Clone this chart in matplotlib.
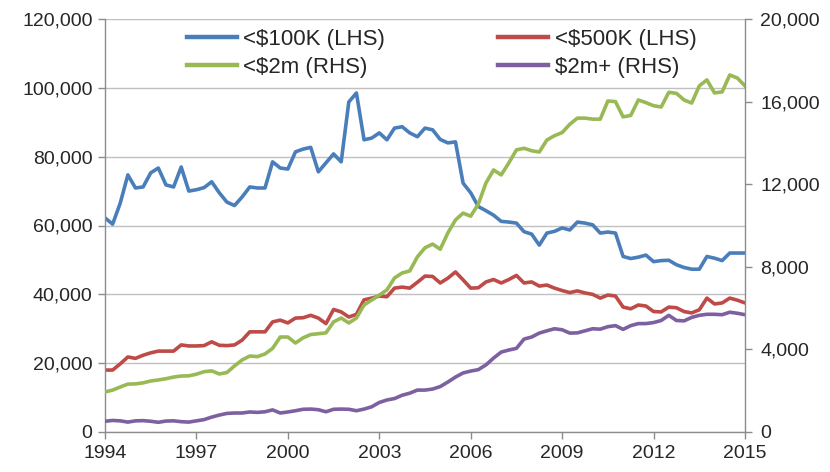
import matplotlib
matplotlib.use("Agg")
import matplotlib.pyplot as plt
from matplotlib.ticker import FuncFormatter, FixedLocator
import numpy as np

# Quarterly data, 1994 Q1 .. 2015 Q1
start_year = 1994
under_100k = [62200, 60400, 66500, 74700, 70900, 71200, 75300, 76700, 71800, 71200,
              77000, 70000, 70400, 71000, 72700, 69500, 66800, 65800, 68300, 71200,
              70900, 70900, 78500, 76700, 76400, 81400, 82200, 82700, 75600, 78200,
              80800, 78500, 95900, 98500, 84900, 85400, 86900, 84900, 88300, 88700,
              86900, 85800, 88300, 87800, 85000, 84000, 84300, 72300, 69500, 65500,
              64300, 63000, 61200, 61000, 60700, 58200, 57500, 54300, 57800, 58300,
              59300, 58700, 61000, 60700, 60200, 57800, 58100, 57800, 51000, 50400,
              50800, 51400, 49500, 49800, 49900, 48600, 47800, 47300, 47300, 51000,
              50500, 49800, 52000, 52000, 52000]
under_500k = [18000, 18000, 19800, 21800, 21400, 22300, 23000, 23500, 23500, 23500,
              25300, 25000, 25000, 25100, 26200, 25200, 25100, 25300, 26700, 29100,
              29100, 29100, 32000, 32500, 31700, 33100, 33200, 33900, 33100, 31500,
              35600, 34900, 33400, 34200, 38400, 38900, 39500, 39300, 41800, 42100,
              41800, 43500, 45300, 45200, 43300, 44700, 46500, 44200, 41800, 41900,
              43600, 44300, 43300, 44300, 45500, 43300, 43600, 42400, 42700, 41800,
              41100, 40500, 41000, 40400, 40000, 38900, 39800, 39500, 36300, 35800,
              36900, 36600, 35000, 34900, 36300, 36100, 35000, 34600, 35500, 38900,
              37200, 37500, 38900, 38300, 37500]
under_2m = [1940, 2030, 2180, 2320, 2330, 2380, 2470, 2520, 2580, 2660,
            2710, 2720, 2800, 2920, 2960, 2810, 2880, 3200, 3490, 3680,
            3650, 3780, 4050, 4600, 4600, 4310, 4560, 4720, 4760, 4800,
            5330, 5520, 5280, 5520, 6150, 6390, 6630, 6880, 7460, 7700,
            7800, 8480, 8920, 9100, 8850, 9640, 10270, 10600, 10450, 11040,
            12060, 12690, 12450, 13030, 13660, 13740, 13620, 13560, 14140, 14350,
            14500, 14900, 15200, 15200, 15150, 15150, 16030, 16000, 15260, 15330,
            16080, 15950, 15800, 15740, 16450, 16400, 16080, 15930, 16760, 17050,
            16420, 16470, 17290, 17140, 16760]
over_2m = [520, 560, 540, 480, 540, 550, 520, 470, 530, 540,
           500, 480, 540, 600, 720, 820, 900, 920, 920, 970,
           950, 980, 1070, 920, 970, 1030, 1100, 1110, 1080, 980,
           1100, 1110, 1100, 1030, 1110, 1220, 1430, 1550, 1620, 1780,
           1880, 2030, 2030, 2080, 2200, 2420, 2660, 2860, 2950, 3020,
           3250, 3580, 3870, 3970, 4050, 4500, 4600, 4790, 4900, 5000,
           4950, 4790, 4800, 4900, 5000, 4980, 5100, 5150, 4970, 5150,
           5250, 5250, 5300, 5400, 5650, 5400, 5380, 5550, 5650, 5700,
           5700, 5680, 5800, 5750, 5680]

labels = ["<$100K (LHS)", "<$500K (LHS)", "<$2m (RHS)", "$2m+ (RHS)"]
colors = ["#4A7EBB", "#BE4B48", "#98B954", "#7D60A0"]
x_ticks = [1994, 1997, 2000, 2003, 2006, 2009, 2012, 2015]
left_ticks = [0, 20000, 40000, 60000, 80000, 100000, 120000]
right_ticks = [0, 4000, 8000, 12000, 16000, 20000]

plt.rcParams['font.family'] = ['Liberation Sans', 'DejaVu Sans']

x = start_year + np.arange(len(under_100k)) / 4.0

fig = plt.figure(figsize=(8.3, 4.72), dpi=100)
ax = fig.add_axes([105/830, 40/472, 640/830, 413/472])
ax2 = ax.twinx()

lw = 2.6
l1, = ax.plot(x, under_100k, color=colors[0], lw=lw, label=labels[0], solid_joinstyle='round')
l2, = ax.plot(x, under_500k, color=colors[1], lw=lw, label=labels[1], solid_joinstyle='round')
l3, = ax2.plot(x, under_2m, color=colors[2], lw=lw, label=labels[2], solid_joinstyle='round')
l4, = ax2.plot(x, over_2m, color=colors[3], lw=lw, label=labels[3], solid_joinstyle='round')

ax.set_xlim(1994, 2015)
ax.set_ylim(0, 120000)
ax2.set_ylim(0, 20000)

fmt = FuncFormatter(lambda v, p: f"{int(v):,}")
ax.yaxis.set_major_locator(FixedLocator(left_ticks))
ax.yaxis.set_major_formatter(fmt)
ax2.yaxis.set_major_locator(FixedLocator(right_ticks))
ax2.yaxis.set_major_formatter(fmt)
ax.xaxis.set_major_locator(FixedLocator(x_ticks))
ax.xaxis.set_major_formatter(FuncFormatter(lambda v, p: f"{int(round(v))}"))

ax.grid(axis='y', color='#C0C0C0', lw=1.0)
ax.set_axisbelow(True)

spine_c = '#8C8C8C'
for a in (ax, ax2):
    a.spines['top'].set_visible(False)
    for s in ('left', 'right', 'bottom'):
        a.spines[s].set_color(spine_c)
        a.spines[s].set_linewidth(1.0)
ax.spines['right'].set_visible(False)
ax2.spines['left'].set_visible(False)
ax2.spines['bottom'].set_visible(False)

ax.tick_params(axis='both', direction='out', length=5, width=1, color=spine_c,
               labelsize=14, labelcolor='#262626')
ax.tick_params(axis='y', pad=4)
ax.tick_params(axis='x', pad=4)
ax2.tick_params(axis='y', direction='out', length=5, width=1, color=spine_c,
                labelsize=14, labelcolor='#262626', pad=6)

leg = ax2.legend([l1, l3, l2, l4], [labels[0], labels[2], labels[1], labels[3]],
                 ncol=2, frameon=False, fontsize=16,
                 loc='upper left', bbox_to_anchor=(187/830, 1 - 29/472),
                 bbox_transform=fig.transFigure, borderpad=0, borderaxespad=0,
                 handlelength=2.25, handletextpad=0.28, columnspacing=5.1,
                 labelspacing=0.3)
for lh in leg.get_lines():
    lh.set_linewidth(3.2)
for t in leg.get_texts():
    t.set_color('#262626')

fig.savefig("out.png", dpi=100)
